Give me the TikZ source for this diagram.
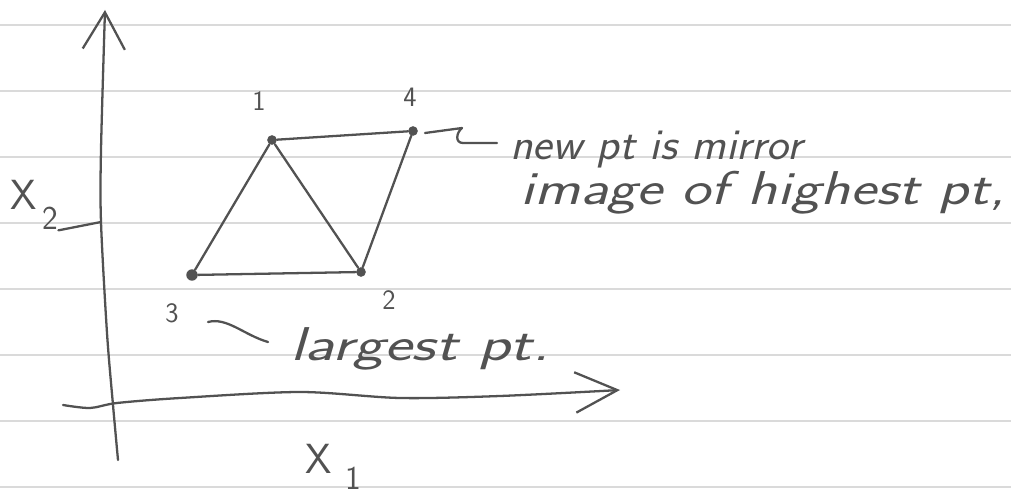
\documentclass[tikz,border=0pt]{standalone}
\usetikzlibrary{arrows.meta,calc}
\definecolor{ink}{RGB}{82,82,82}
\definecolor{ruled}{RGB}{218,218,218}

\begin{document}
\begin{tikzpicture}[x=0.02cm,y=-0.02cm,
  pen/.style={ink,line width=1.3pt,line cap=round,line join=round},
  dot/.style={circle,fill=ink,inner sep=0pt,minimum size=5.5pt},
  hand/.style={ink,font=\sffamily\slshape\fontsize{27}{29}\selectfont,inner sep=0pt},
  axlab/.style={ink,font=\sffamily\fontsize{24}{26}\selectfont,inner sep=0pt},
  sub/.style={ink,font=\sffamily\fontsize{19}{21}\selectfont,inner sep=0pt},
  num/.style={ink,font=\sffamily\fontsize{16}{18}\selectfont,inner sep=0pt}]
  \useasboundingbox (0,0) rectangle (1011,493);

  % ruled paper
  \foreach \r in {25,91,157,223,289,355,421,487}
    \draw[ruled,line width=1pt] (0,\r) -- (1011,\r);

  % axes, drawn by hand
  \coordinate (ytop) at (105,10);
  \coordinate (xtip) at (620,390);
  \draw[pen,-{Straight Barb[length=21pt,width=24pt]}]
    plot[smooth] coordinates {(118,460) (113,405) (107,333) (101,222) (101,150) (ytop)};
  \draw[pen,-{Straight Barb[length=24pt,width=23pt]}]
    plot[smooth] coordinates {(63,405) (90,408) (117,403) (180,398) (300,392) (400,398) (500,396) (xtip)};

  % axis labels
  \node[axlab,anchor=base west] (lx2) at (10,210) {X};
  \node[sub,anchor=base west] (sx2) at (42,230) {2};
  \draw[pen] (sx2.south east) -- (101,222);
  \node[axlab,anchor=base west] (lx1) at (305,473) {X};
  \node[sub,anchor=base west] (sx1) at (345,489) {1};

  % simplex points
  \node[dot] (p1) at (272,140) {};
  \node[dot] (p2) at (361,272) {};
  \node[dot,minimum size=6.5pt] (p3) at (192,275) {};
  \node[dot] (p4) at (413,131) {};
  \node[num] (n1) at (259,101) {1};
  \node[num] (n2) at (389,300) {2};
  \node[num] (n3) at (172,313) {3};
  \node[num] (n4) at (410,97) {4};

  % triangle and reflected point
  \draw[pen] (p3) -- (p1) -- (p2) -- (p3);
  \draw[pen] (p1) -- (p4) -- (p2);

  % notes
  \node[hand,font=\sffamily\slshape\fontsize{25}{27}\selectfont,anchor=base west] (newpt) at (510,160) {\scalebox{1.06}[1]{new pt is mirror}};
  \node[hand,anchor=base west] (image) at (520,205) {\scalebox{1.3}[1]{image of highest pt,}};
  \node[hand,anchor=base west] (large) at (290,360) {\scalebox{1.38}[1]{largest pt.}};

  \draw[pen] ($(p4)+(12,2)$) -- ($(p4)+(49,-3)$)
    .. controls ($(p4)+(43,2)$) and ($(p4)+(42,12)$) .. ($(p4)+(50,12)$)
    -- ($(newpt.base west)+(-13,-17)$);
  \draw[pen] ($(n3)+(36,9)$) .. controls ($(n3)+(55,4)$) and ($(n3)+(72,22)$) .. ($(large.base west)+(-22,-18)$);
\end{tikzpicture}
\end{document}
